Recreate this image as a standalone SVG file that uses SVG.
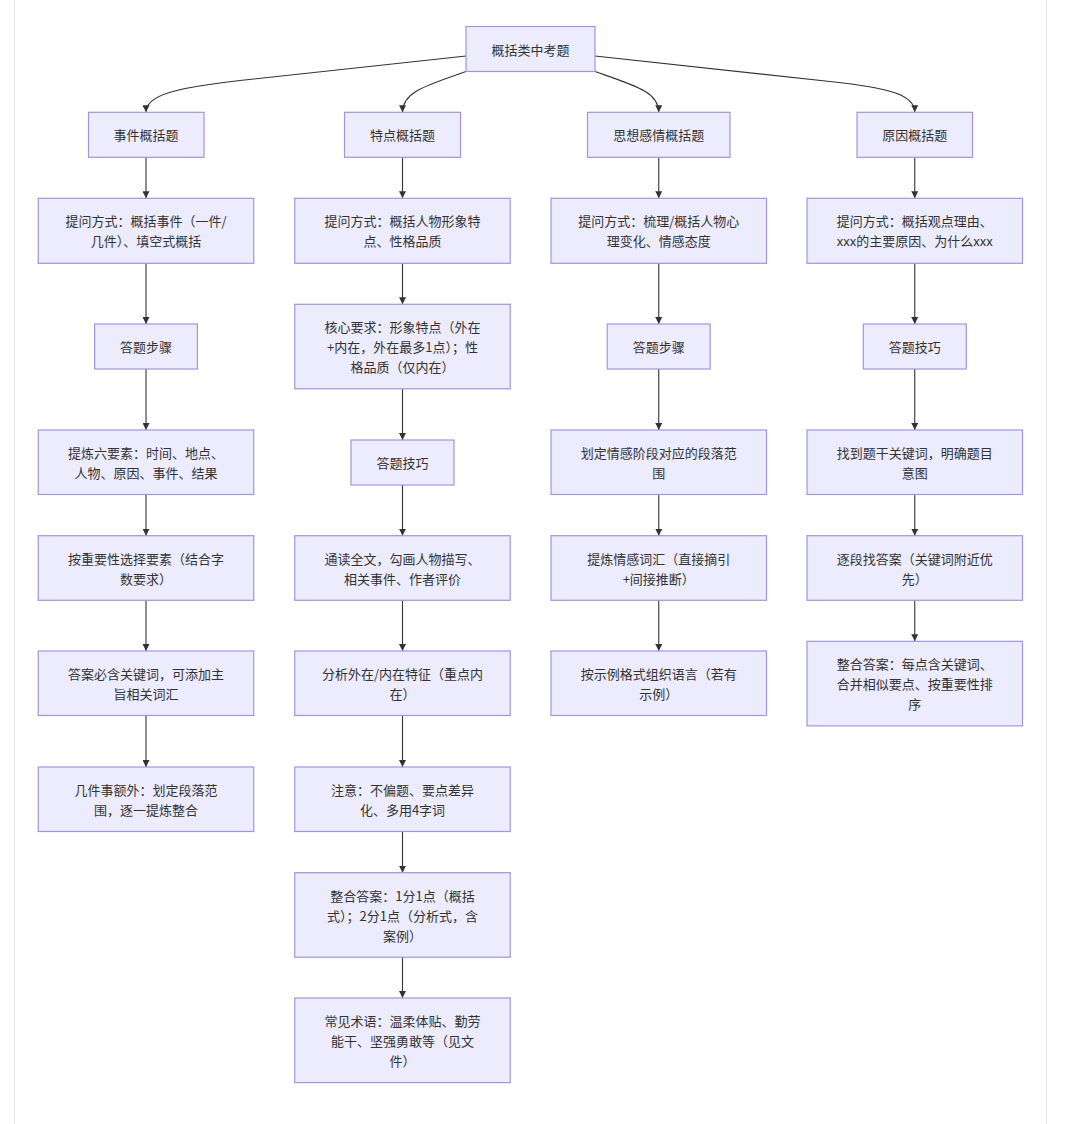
<svg xmlns="http://www.w3.org/2000/svg" width="1080" height="1124" viewBox="0 0 1080 1124">
<style>
.bg{fill:#ffffff}
.frame{stroke:#e6e6e6;stroke-width:1.2;fill:none}
.node rect{fill:#ececfe;stroke:#a394dc;stroke-width:1.2}
.node text{font-family:"Noto Sans CJK SC","Noto Sans",sans-serif;font-size:13px;fill:#333333;text-anchor:middle;dominant-baseline:central}
.edge{fill:none;stroke:#333333;stroke-width:1.1}
</style>
<defs>
<marker id="arr" viewBox="0 0 10 10" refX="10" refY="5" markerWidth="7" markerHeight="7" markerUnits="userSpaceOnUse" orient="auto">
<path d="M0,0 L10,5 L0,10 z" fill="#333333"/>
</marker>
</defs>
<rect class="bg" x="0" y="0" width="1080" height="1124"/>
<line class="frame" x1="14.5" y1="0" x2="14.5" y2="1124"/>
<line class="frame" x1="1046.5" y1="0" x2="1046.5" y2="1124"/>

<g id="connectors">
<path class="edge" marker-end="url(#arr)" d="M466,56 L240,80.5 C175,88 146,95 146,112.3"/>
<path class="edge" marker-end="url(#arr)" d="M466,71.5 C425,86 402.5,92 402.5,112.3"/>
<path class="edge" marker-end="url(#arr)" d="M595,71.5 C636,86 658.75,92 658.75,112.3"/>
<path class="edge" marker-end="url(#arr)" d="M595,56 L830,81.5 C890,88 914.75,95 914.75,112.3"/>

<path class="edge" marker-end="url(#arr)" d="M146,157.3 V198.3"/>
<path class="edge" marker-end="url(#arr)" d="M146,263.3 V324"/>
<path class="edge" marker-end="url(#arr)" d="M146,369 V430"/>
<path class="edge" marker-end="url(#arr)" d="M146,494.5 V535.7"/>
<path class="edge" marker-end="url(#arr)" d="M146,600.3 V651"/>
<path class="edge" marker-end="url(#arr)" d="M146,715.5 V767"/>

<path class="edge" marker-end="url(#arr)" d="M402.5,157.3 V198.3"/>
<path class="edge" marker-end="url(#arr)" d="M402.5,263.3 V304.3"/>
<path class="edge" marker-end="url(#arr)" d="M402.5,388.8 V440"/>
<path class="edge" marker-end="url(#arr)" d="M402.5,485 V535.7"/>
<path class="edge" marker-end="url(#arr)" d="M402.5,600.3 V651"/>
<path class="edge" marker-end="url(#arr)" d="M402.5,715.5 V767"/>
<path class="edge" marker-end="url(#arr)" d="M402.5,831.5 V872.7"/>
<path class="edge" marker-end="url(#arr)" d="M402.5,957.2 V998"/>

<path class="edge" marker-end="url(#arr)" d="M658.75,157.3 V198.3"/>
<path class="edge" marker-end="url(#arr)" d="M658.75,263.3 V324"/>
<path class="edge" marker-end="url(#arr)" d="M658.75,369 V430"/>
<path class="edge" marker-end="url(#arr)" d="M658.75,494.5 V535.7"/>
<path class="edge" marker-end="url(#arr)" d="M658.75,600.3 V651"/>

<path class="edge" marker-end="url(#arr)" d="M914.75,157.3 V198.3"/>
<path class="edge" marker-end="url(#arr)" d="M914.75,263.3 V324"/>
<path class="edge" marker-end="url(#arr)" d="M914.75,369 V430"/>
<path class="edge" marker-end="url(#arr)" d="M914.75,494.5 V535.7"/>
<path class="edge" marker-end="url(#arr)" d="M914.75,600.3 V641.3"/>
</g>

<g id="root" class="node"><rect x="466" y="26.5" width="129" height="45"/><text x="530.5" y="49">概括类中考题</text></g>

<g id="c1_type" class="node"><rect x="88.5" y="112.3" width="115.5" height="45"/><text x="146" y="134.8">事件概括题</text></g>
<g id="c2_type" class="node"><rect x="344.5" y="112.3" width="116" height="45"/><text x="402.5" y="134.8">特点概括题</text></g>
<g id="c3_type" class="node"><rect x="587.5" y="112.3" width="142.5" height="45"/><text x="658.75" y="134.8">思想感情概括题</text></g>
<g id="c4_type" class="node"><rect x="857" y="112.3" width="115.5" height="45"/><text x="914.75" y="134.8">原因概括题</text></g>

<g id="c1_ask" class="node"><rect x="38.25" y="198.3" width="215.5" height="65"/><text x="146" y="220.8">提问方式：概括事件（一件/</text><text x="146" y="240.8">几件）、填空式概括</text></g>
<g id="c1_steps" class="node"><rect x="94.6" y="324" width="102.8" height="45"/><text x="146" y="346.5">答题步骤</text></g>
<g id="c1_s1" class="node"><rect x="38.25" y="430" width="215.5" height="64.5"/><text x="146" y="452.2">提炼六要素：时间、地点、</text><text x="146" y="472.2">人物、原因、事件、结果</text></g>
<g id="c1_s2" class="node"><rect x="38.25" y="535.7" width="215.5" height="64.6"/><text x="146" y="558">按重要性选择要素（结合字</text><text x="146" y="578">数要求）</text></g>
<g id="c1_s3" class="node"><rect x="38.25" y="651" width="215.5" height="64.5"/><text x="146" y="673.3">答案必含关键词，可添加主</text><text x="146" y="693.3">旨相关词汇</text></g>
<g id="c1_s4" class="node"><rect x="38.25" y="767" width="215.5" height="64.5"/><text x="146" y="789.2">几件事额外：划定段落范</text><text x="146" y="809.2">围，逐一提炼整合</text></g>

<g id="c2_ask" class="node"><rect x="294.75" y="198.3" width="215.5" height="65"/><text x="402.5" y="220.8">提问方式：概括人物形象特</text><text x="402.5" y="240.8">点、性格品质</text></g>
<g id="c2_core" class="node"><rect x="294.75" y="304.3" width="215.5" height="84.5"/><text x="402.5" y="326.5">核心要求：形象特点（外在</text><text x="402.5" y="346.5">+内在，外在最多1点）；性</text><text x="402.5" y="366.5">格品质（仅内在）</text></g>
<g id="c2_tips" class="node"><rect x="351" y="440" width="103" height="45"/><text x="402.5" y="462.5">答题技巧</text></g>
<g id="c2_s1" class="node"><rect x="294.75" y="535.7" width="215.5" height="64.6"/><text x="402.5" y="558">通读全文，勾画人物描写、</text><text x="402.5" y="578">相关事件、作者评价</text></g>
<g id="c2_s2" class="node"><rect x="294.75" y="651" width="215.5" height="64.5"/><text x="402.5" y="673.3">分析外在/内在特征（重点内</text><text x="402.5" y="693.3">在）</text></g>
<g id="c2_s3" class="node"><rect x="294.75" y="767" width="215.5" height="64.5"/><text x="402.5" y="789.2">注意：不偏题、要点差异</text><text x="402.5" y="809.2">化、多用4字词</text></g>
<g id="c2_s4" class="node"><rect x="294.75" y="872.7" width="215.5" height="84.5"/><text x="402.5" y="895">整合答案：1分1点（概括</text><text x="402.5" y="915">式）；2分1点（分析式，含</text><text x="402.5" y="935">案例）</text></g>
<g id="c2_s5" class="node"><rect x="294.75" y="998" width="215.5" height="84.6"/><text x="402.5" y="1020.3">常见术语：温柔体贴、勤劳</text><text x="402.5" y="1040.3">能干、坚强勇敢等（见文</text><text x="402.5" y="1060.3">件）</text></g>

<g id="c3_ask" class="node"><rect x="551" y="198.3" width="215.5" height="65"/><text x="658.75" y="220.8">提问方式：梳理/概括人物心</text><text x="658.75" y="240.8">理变化、情感态度</text></g>
<g id="c3_steps" class="node"><rect x="607.2" y="324" width="103" height="45"/><text x="658.75" y="346.5">答题步骤</text></g>
<g id="c3_s1" class="node"><rect x="551" y="430" width="215.5" height="64.5"/><text x="658.75" y="452.2">划定情感阶段对应的段落范</text><text x="658.75" y="472.2">围</text></g>
<g id="c3_s2" class="node"><rect x="551" y="535.7" width="215.5" height="64.6"/><text x="658.75" y="558">提炼情感词汇（直接摘引</text><text x="658.75" y="578">+间接推断）</text></g>
<g id="c3_s3" class="node"><rect x="551" y="651" width="215.5" height="64.5"/><text x="658.75" y="673.3">按示例格式组织语言（若有</text><text x="658.75" y="693.3">示例）</text></g>

<g id="c4_ask" class="node"><rect x="807" y="198.3" width="215.5" height="65"/><text x="914.75" y="220.8">提问方式：概括观点理由、</text><text x="914.75" y="240.8">xxx的主要原因、为什么xxx</text></g>
<g id="c4_tips" class="node"><rect x="863.3" y="324" width="103" height="45"/><text x="914.75" y="346.5">答题技巧</text></g>
<g id="c4_s1" class="node"><rect x="807" y="430" width="215.5" height="64.5"/><text x="914.75" y="452.2">找到题干关键词，明确题目</text><text x="914.75" y="472.2">意图</text></g>
<g id="c4_s2" class="node"><rect x="807" y="535.7" width="215.5" height="64.6"/><text x="914.75" y="558">逐段找答案（关键词附近优</text><text x="914.75" y="578">先）</text></g>
<g id="c4_s3" class="node"><rect x="807" y="641.3" width="215.5" height="84.6"/><text x="914.75" y="663.6">整合答案：每点含关键词、</text><text x="914.75" y="683.6">合并相似要点、按重要性排</text><text x="914.75" y="703.6">序</text></g>
</svg>
